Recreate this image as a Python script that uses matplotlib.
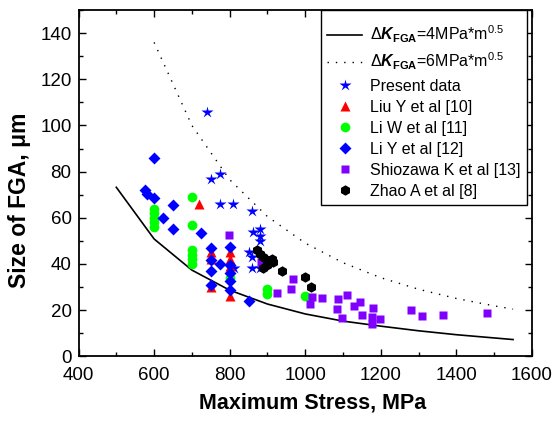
import matplotlib
matplotlib.use("Agg")
import matplotlib.pyplot as plt
from matplotlib.ticker import MultipleLocator

plt.rcParams['font.family'] = ['Liberation Sans', 'DejaVu Sans']
plt.rcParams['mathtext.fontset'] = 'custom'
plt.rcParams['mathtext.rm'] = 'Liberation Sans'
plt.rcParams['mathtext.it'] = 'Liberation Sans:italic'
plt.rcParams['mathtext.bf'] = 'Liberation Sans:bold'
plt.rcParams['mathtext.bfit'] = 'Liberation Sans:bold:italic'

# Curves
k4_x = [500, 600, 700, 800, 900, 1000, 1100, 1200, 1300, 1400, 1500, 1550]
k4_y = [73.2, 50.8, 37.3, 28.6, 22.6, 18.3, 15.2, 13.0, 11.0, 9.3, 7.9, 7.2]
k6_x = [600, 700, 800, 900, 1000, 1100, 1200, 1300, 1400, 1500, 1550]
k6_y = [136, 100, 76.5, 60.5, 49, 40.5, 34, 29, 25, 21.8, 20.4]

present_x = [739, 750, 774, 774, 808, 860, 862, 880, 880, 880, 850, 860, 860, 880, 812]
present_y = [106, 77, 79, 66, 66, 63, 54, 55, 52, 50, 45, 43, 38, 38, 38]

liuy_x = [720, 750, 750, 750, 800, 800, 800, 800]
liuy_y = [66, 45, 42, 30, 45, 42, 39, 26]

liw_x = [600, 600, 600, 600, 600, 700, 700, 700, 700, 700, 700, 800, 900, 900, 1000]
liw_y = [64, 62, 60, 58, 56, 69, 57, 46, 44, 42, 40, 34, 29, 27, 26]

liy_x = [575, 580, 600, 600, 624, 649, 649, 724, 750, 750, 750, 750, 774,
         800, 800, 800, 800, 800, 851]
liy_y = [72, 70.5, 86, 68.5, 60, 65.5, 55, 53.5, 47, 41.5, 37, 31, 40,
         47.5, 39.5, 36, 32.5, 28.5, 24]

shio_x = [798, 882, 968, 962, 924, 1017, 1012, 1045, 1086, 1083, 1096, 1110,
          1145, 1129, 1151, 1180, 1176, 1176, 1198, 1281, 1308, 1365, 1480]
shio_y = [52.5, 41, 33.5, 29, 27.3, 25.7, 22.4, 25, 24.7, 20.3, 16.5, 26.4,
          23.5, 21.8, 17.8, 20.7, 17, 14, 16, 20.2, 17.5, 18, 18.5]

zhao_x = [871, 880, 889, 900, 911, 915, 898, 889, 938, 999, 1014]
zhao_y = [46, 44.5, 43, 41.5, 42.3, 41, 39.4, 38, 36.8, 34.5, 30]

labels = [r'$\Delta\mathbfit{K}_{\mathbf{FGA}}$=4MPa*m$^{0.5}$',
          r'$\Delta\mathbfit{K}_{\mathbf{FGA}}$=6MPa*m$^{0.5}$',
          'Present data', 'Liu Y et al [10]', 'Li W et al [11]',
          'Li Y et al [12]', 'Shiozawa K et al [13]', 'Zhao A et al [8]']

fig = plt.figure(figsize=(5.53, 4.21), dpi=100)
ax = fig.add_axes([0.142, 0.154, 0.820, 0.822])

ax.plot(k4_x, k4_y, color='black', lw=1.2, label=labels[0])
ax.plot(k6_x, k6_y, color='black', lw=1.0, linestyle=(0, (1, 5)), label=labels[1])
ax.plot(present_x, present_y, '*', color='#0000ff', ms=9, mec='none', label=labels[2], zorder=3)
ax.plot(liuy_x, liuy_y, '^', color='#ff0000', ms=7.5, mec='none', label=labels[3], zorder=3)
ax.plot(liw_x, liw_y, 'o', color='#00ff00', ms=7, mec='none', label=labels[4], zorder=3)
ax.plot(liy_x, liy_y, 'D', color='#0000ff', ms=6, mec='none', label=labels[5], zorder=4)
ax.plot(shio_x, shio_y, 's', color='#8000ff', ms=6.3, mec='none', label=labels[6], zorder=3)
ax.plot(zhao_x, zhao_y, 'h', color='black', ms=7.5, mec='none', label=labels[7], zorder=3)

ax.set_xlim(400, 1600)
ax.set_ylim(0, 150)
ax.xaxis.set_major_locator(MultipleLocator(200))
ax.xaxis.set_minor_locator(MultipleLocator(100))
ax.yaxis.set_minor_locator(MultipleLocator(10))
ax.set_yticks([0, 20, 40, 60, 80, 100, 120, 140])
ax.tick_params(which='both', direction='in', top=True, right=True, labelsize=13.5, width=1)
ax.tick_params(which='major', length=5, pad=5)
ax.tick_params(axis='x', which='major', pad=8)
ax.tick_params(which='minor', length=3)
for s in ax.spines.values():
    s.set_linewidth(1.3)

ax.set_xlabel('Maximum Stress, MPa', fontsize=15.5, fontweight='bold')
ax.xaxis.set_label_coords(0.517, -0.105)
ax.set_ylabel('Size of FGA, \u03bcm', fontsize=16.5, fontweight='bold')
ax.yaxis.set_label_coords(-0.105, 0.45)

leg = ax.legend(loc='upper right', bbox_to_anchor=(0.989, 1.0), borderaxespad=0,
                fontsize=11.5, frameon=True, fancybox=False, edgecolor='black',
                framealpha=1, handlelength=2.2, handletextpad=0.5,
                labelspacing=0.38, borderpad=0.4, numpoints=1,
                title=' ', title_fontsize=1.5)
leg.get_frame().set_linewidth(1.0)

fig.savefig('out.png', dpi=100)
